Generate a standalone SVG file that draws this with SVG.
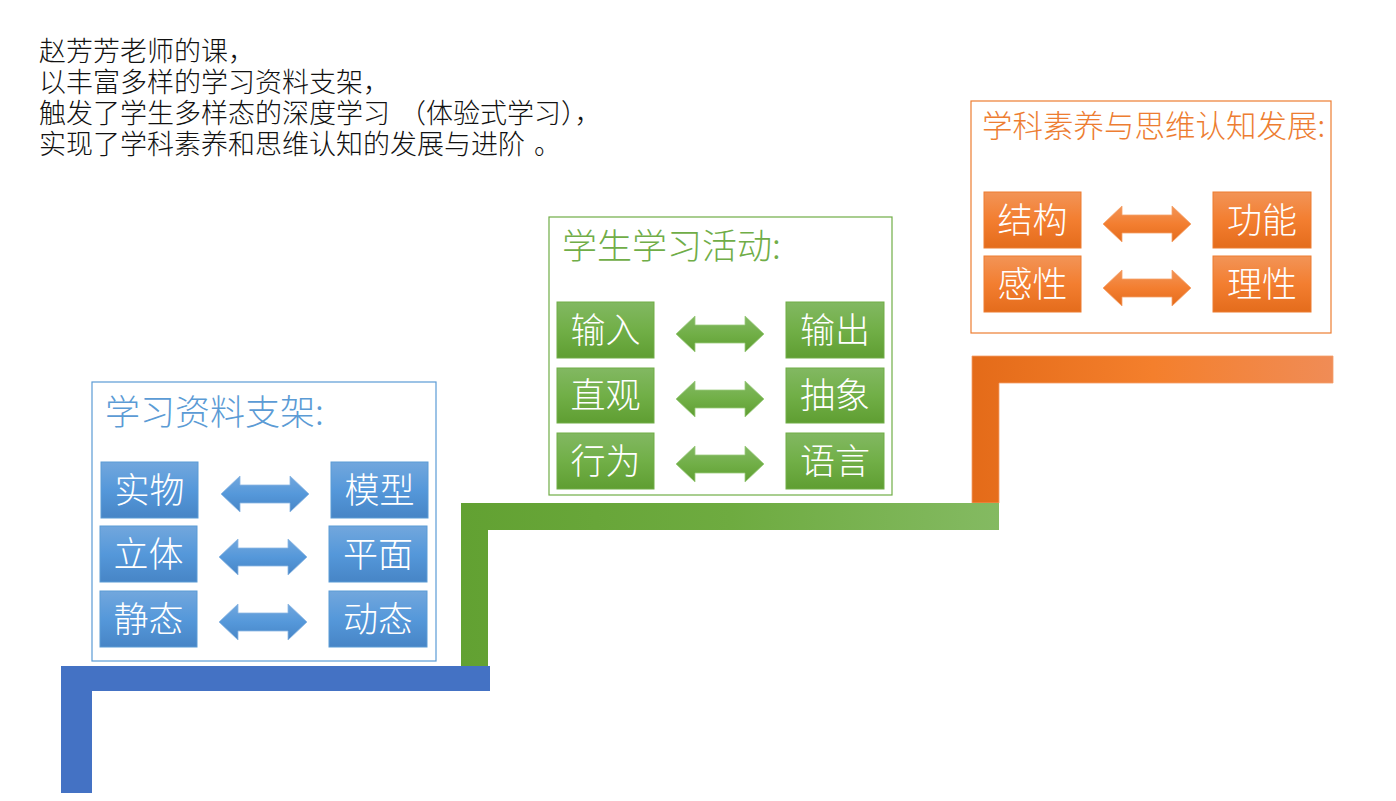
<svg xmlns="http://www.w3.org/2000/svg" width="1396" height="801" viewBox="0 0 1396 801">
<style>
text{font-family:"Noto Sans CJK SC","Noto Sans",sans-serif}
.intro{font-size:27px;fill:#111;font-weight:300}
.title{font-size:35px;font-weight:300}
.lbl{font-size:35px;fill:#fff;text-anchor:middle;font-weight:300}
.bframe{fill:#fff;stroke:#5B9BD5;stroke-width:1.2}
.gframe{fill:#fff;stroke:#70AD47;stroke-width:1.2}
.oframe{fill:#fff;stroke:#ED7D31;stroke-width:1.2}
.bbox{fill:url(#gb);stroke:#5B9BD5;stroke-width:1}
.gbox{fill:url(#gg);stroke:#70AD47;stroke-width:1}
.obox{fill:url(#go);stroke:#ED7D31;stroke-width:1}
.barr{fill:url(#gb);stroke:#8DB8E3;stroke-width:0.8}
.garr{fill:url(#gg);stroke:#9CCB7F;stroke-width:0.8}
.oarr{fill:url(#go);stroke:#F5A26B;stroke-width:0.8}
</style>
<defs>
<linearGradient id="gb" x1="0" y1="0" x2="0" y2="1">
<stop offset="0" stop-color="#72A7DD"/><stop offset="0.5" stop-color="#5598DA"/><stop offset="1" stop-color="#4785C6"/>
</linearGradient>
<linearGradient id="gg" x1="0" y1="0" x2="0" y2="1">
<stop offset="0" stop-color="#82B862"/><stop offset="0.5" stop-color="#71AF47"/><stop offset="1" stop-color="#5F9E32"/>
</linearGradient>
<linearGradient id="go" x1="0" y1="0" x2="0" y2="1">
<stop offset="0" stop-color="#F29457"/><stop offset="0.5" stop-color="#F37E30"/><stop offset="1" stop-color="#E46C1C"/>
</linearGradient>
<linearGradient id="sg" x1="0" y1="0" x2="1" y2="0">
<stop offset="0" stop-color="#62A132"/><stop offset="0.5" stop-color="#6EAB40"/><stop offset="1" stop-color="#84BA62"/>
</linearGradient>
<linearGradient id="so" x1="0" y1="0" x2="1" y2="0">
<stop offset="0" stop-color="#E46B19"/><stop offset="0.5" stop-color="#F47F2C"/><stop offset="1" stop-color="#F08C56"/>
</linearGradient>
<path id="arr" d="M0,0 L19,-18 L19,-9 L69,-9 L69,-18 L88,0 L69,18 L69,9 L19,9 L19,18 Z"/>
</defs>

<g id="intro">
<text class="intro" x="39" y="61">赵芳芳老师的课，</text>
<text class="intro" x="39" y="92">以丰富多样的学习资料支架，</text>
<text class="intro" x="39" y="123">触发了学生多样态的深度学习<tspan x="399">（体验式学习），</tspan></text>
<text class="intro" x="39" y="154">实现了学科素养和思维认知的发展与进阶<tspan x="534">。</tspan></text>
</g>

<g id="stairs">
<polygon points="972,503 972,356 1333,356 1333,383 999,383 999,503" fill="url(#so)" stroke="#F4A06A" stroke-width="0.8"/>
<polygon points="461,667 461,503 999,503 999,530 488,530 488,667" fill="url(#sg)"/>
<polygon points="61,793 61,666 490,666 490,691 92,691 92,793" fill="#4472C4"/>
</g>

<g id="materials">
<rect class="bframe" x="92" y="382" width="344" height="279"/>
<text class="title" x="105" y="425" fill="#5B9BD5">学习资料支架:</text>
<g id="m1"><rect class="bbox" x="101" y="462" width="97" height="56"/><text class="lbl" x="149.5" y="503">实物</text></g>
<g id="m2"><rect class="bbox" x="331" y="462" width="97" height="56"/><text class="lbl" x="379.5" y="503">模型</text></g>
<g id="m3"><rect class="bbox" x="100" y="526" width="97" height="56"/><text class="lbl" x="148.5" y="567">立体</text></g>
<g id="m4"><rect class="bbox" x="329" y="526" width="98" height="56"/><text class="lbl" x="378" y="567">平面</text></g>
<g id="m5"><rect class="bbox" x="100" y="591" width="97" height="56"/><text class="lbl" x="148.5" y="632">静态</text></g>
<g id="m6"><rect class="bbox" x="329" y="591" width="98" height="56"/><text class="lbl" x="378" y="632">动态</text></g>
</g>

<g id="activities">
<rect class="gframe" x="549" y="217" width="343" height="278"/>
<text class="title" x="562" y="259" fill="#70AD47">学生学习活动:</text>
<g id="a1"><rect class="gbox" x="557" y="302" width="97" height="56"/><text class="lbl" x="605.5" y="343">输入</text></g>
<g id="a2"><rect class="gbox" x="786" y="302" width="98" height="56"/><text class="lbl" x="835" y="343">输出</text></g>
<g id="a3"><rect class="gbox" x="557" y="368" width="97" height="55"/><text class="lbl" x="605.5" y="408">直观</text></g>
<g id="a4"><rect class="gbox" x="786" y="368" width="98" height="55"/><text class="lbl" x="835" y="408">抽象</text></g>
<g id="a5"><rect class="gbox" x="557" y="433" width="97" height="56"/><text class="lbl" x="605.5" y="474">行为</text></g>
<g id="a6"><rect class="gbox" x="786" y="433" width="98" height="56"/><text class="lbl" x="835" y="474">语言</text></g>
</g>

<g id="development">
<rect class="oframe" x="971" y="101" width="360" height="232"/>
<text class="title" x="982" y="137" fill="#ED7D31" style="font-size:30.5px">学科素养与思维认知发展:</text>
<g id="d1"><rect class="obox" x="984" y="192" width="97" height="56"/><text class="lbl" x="1032.5" y="233">结构</text></g>
<g id="d2"><rect class="obox" x="1213" y="192" width="98" height="56"/><text class="lbl" x="1262" y="233">功能</text></g>
<g id="d3"><rect class="obox" x="984" y="256" width="97" height="56"/><text class="lbl" x="1032.5" y="297">感性</text></g>
<g id="d4"><rect class="obox" x="1213" y="256" width="98" height="56"/><text class="lbl" x="1262" y="297">理性</text></g>
</g>

<g id="connectors">
<use href="#arr" class="barr" x="221" y="494"/>
<use href="#arr" class="barr" x="219" y="557"/>
<use href="#arr" class="barr" x="219" y="622"/>
<use href="#arr" class="garr" x="676" y="334"/>
<use href="#arr" class="garr" x="676" y="399"/>
<use href="#arr" class="garr" x="676" y="464"/>
<use href="#arr" class="oarr" x="1103" y="224"/>
<use href="#arr" class="oarr" x="1103" y="288"/>
</g>
</svg>
